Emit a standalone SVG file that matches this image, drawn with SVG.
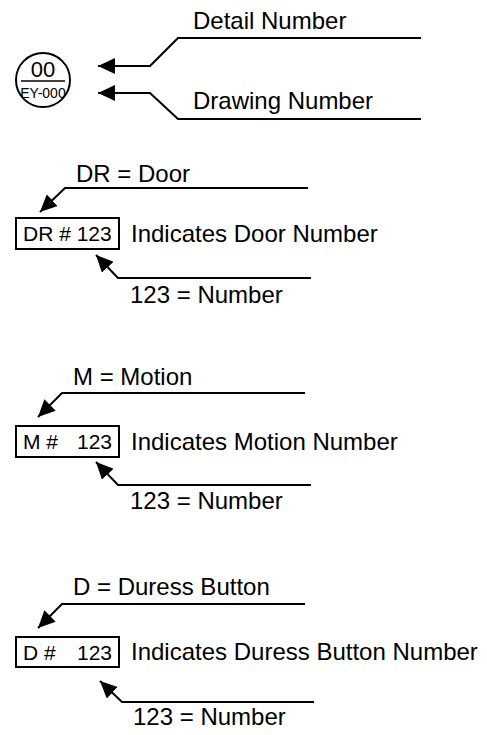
<svg xmlns="http://www.w3.org/2000/svg" width="487" height="735" viewBox="0 0 487 735">
<style>
.t{font-family:"Liberation Sans",Arial,sans-serif;font-size:24px;fill:#000}
.b{font-family:"Liberation Sans",Arial,sans-serif;font-size:21px;fill:#000}
.ln{fill:none;stroke:#000;stroke-width:2}
.bx{fill:#fff;stroke:#000;stroke-width:2}
</style>
<defs>
<marker id="ah" markerUnits="userSpaceOnUse" markerWidth="18" markerHeight="16" refX="17" refY="8" orient="auto">
<path d="M0,0 L17,8 L0,16 Z" fill="#000"/>
</marker>
</defs>
<rect width="487" height="735" fill="#fff"/>
<g id="detail-callout">
<circle cx="43" cy="80" r="27" fill="#fff" stroke="#000" stroke-width="2"/>
<line x1="21" y1="81" x2="65" y2="81" stroke="#000" stroke-width="1.5"/>
<text x="43" y="77" text-anchor="middle" style="font-family:'Liberation Sans',Arial,sans-serif;font-size:22px">00</text>
<text x="43" y="98" text-anchor="middle" style="font-family:'Liberation Sans',Arial,sans-serif;font-size:14px">EY-000</text>
</g>
<g id="label-detail"><text class="t" x="193" y="29">Detail Number</text></g>
<g id="label-drawing"><text class="t" x="193" y="109">Drawing Number</text></g>
<g id="door">
<rect class="bx" x="16" y="218" width="103" height="31"/>
<text class="b" x="23" y="241">DR # 123</text>
<text class="t" x="131" y="242">Indicates Door Number</text>
<text class="t" x="76" y="182">DR = Door</text>
<text class="t" x="130" y="303">123 = Number</text>
</g>
<g id="motion">
<rect class="bx" x="16" y="426" width="103" height="31"/>
<text class="b" x="23" y="449" xml:space="preserve">M #  <tspan x="112" text-anchor="end">123</tspan></text>
<text class="t" x="131" y="450">Indicates Motion Number</text>
<text class="t" x="73" y="385">M = Motion</text>
<text class="t" x="130" y="509">123 = Number</text>
</g>
<g id="duress">
<rect class="bx" x="16" y="637" width="103" height="30"/>
<text class="b" x="23" y="660" xml:space="preserve">D #   <tspan x="112" text-anchor="end">123</tspan></text>
<text class="t" x="131" y="660">Indicates Duress Button Number</text>
<text class="t" x="73" y="595">D = Duress Button</text>
<text class="t" x="133" y="725">123 = Number</text>
</g>
<g id="connectors">
<path class="ln" d="M421,38 H178 L150,66 H98" marker-end="url(#ah)"/>
<path class="ln" d="M421,119 H178 L150,93 H98" marker-end="url(#ah)"/>
<path class="ln" d="M308,188 H65 L40,212" marker-end="url(#ah)"/>
<path class="ln" d="M311,278 H118 L96,255" marker-end="url(#ah)"/>
<path class="ln" d="M305,393 H62 L38,417" marker-end="url(#ah)"/>
<path class="ln" d="M311,485 H118 L96,462" marker-end="url(#ah)"/>
<path class="ln" d="M305,604 H62 L38,628" marker-end="url(#ah)"/>
<path class="ln" d="M314,702 H122 L100,681" marker-end="url(#ah)"/>
</g>
</svg>
